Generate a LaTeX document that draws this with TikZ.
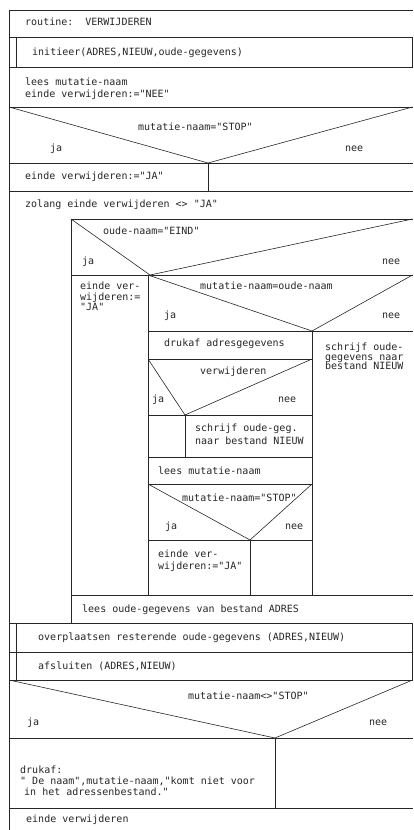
\documentclass[tikz,border=0pt]{standalone}
\usepackage{fontspec}
\newfontfamily\dm{DejaVu Sans Mono}
\frenchspacing
\begin{document}
\begin{tikzpicture}[x=1pt,y=-1pt,
  ln/.style={draw=black!85, line width=0.6pt},
  t/.style={anchor=west, inner sep=0pt, font=\dm\fontsize{10}{11}\selectfont, text=black!85, text height=7.5pt, text depth=2.5pt}]
\useasboundingbox (0,0) rectangle (413,830);
% outer frame
\draw[ln] (9,830) -- (9,10) -- (413,10);
\foreach \yy in {37,67,107,163,191,623,652,680,738,808}
  \draw[ln] (9,\yy) -- (413,\yy);
% subroutine double bars
\draw[ln] (16,37) -- (16,67);
\draw[ln] (412.4,37) -- (412.4,67);
\draw[ln] (16,623) -- (16,680);
\draw[ln] (412.4,623) -- (412.4,680);
% first decision
\draw[ln] (9,107) -- (208,163) -- (412.5,107);
\draw[ln] (208,163) -- (208,191);
% loop box
\draw[ln] (71,623) -- (71,219) -- (413,219);
\draw[ln] (71,219) -- (150,275) -- (412.5,219);
\draw[ln] (71,275) -- (413,275);
\draw[ln] (148,275) -- (148,595);
\draw[ln] (148,275) -- (312,331) -- (412.5,275);
\draw[ln] (148,331) -- (413,331);
\draw[ln] (312,331) -- (312,595);
\draw[ln] (148,359) -- (312,359);
\draw[ln] (148,359) -- (185,415) -- (312,359);
\draw[ln] (148,415) -- (312,415);
\draw[ln] (185,415) -- (185,457);
\draw[ln] (148,457) -- (312,457);
\draw[ln] (148,484) -- (312,484);
\draw[ln] (148,484) -- (250,540) -- (312,484);
\draw[ln] (148,540) -- (312,540);
\draw[ln] (250,540) -- (250,595);
\draw[ln] (71,595) -- (413,595);
% last decision
\draw[ln] (9,680) -- (275,738) -- (412.5,680);
\draw[ln] (275,738) -- (275,808);
% texts
\node[t] (r1) at (25,23) {routine:\ \ VERWIJDEREN};
\node[t] (r2) at (32,53) {initieer(ADRES,NIEUW,oude-gegevens)};
\node[t] (r3a) at (25,83) {lees mutatie-naam};
\node[t] (r3b) at (25,95) {einde verwijderen:="NEE"};
\node[t] (d1) at (138,128) {mutatie-naam="STOP"};
\node[t] (d1j) at (50,149) {ja};
\node[t] (d1n) at (345,149) {nee};
\node[t] (r4) at (25,177) {einde verwijderen:="JA"};
\node[t] (r5) at (25,205) {zolang einde verwijderen <> "JA"};
\node[t] (d2) at (103,232) {oude-naam="EIND"};
\node[t] (d2j) at (82,262) {ja};
\node[t] (d2n) at (382,262) {nee};
\node[t] (e1a) at (80,287) {einde ver-};
\node[t] (e1b) at (80,297.5) {wijderen:=};
\node[t] (e1c) at (80,307.5) {"JA"};
\node[t] (d3) at (200,287) {mutatie-naam=oude-naam};
\node[t] (d3j) at (164,316) {ja};
\node[t] (d3n) at (382,316) {nee};
\node[t] (r6) at (164,344) {drukaf adresgegevens};
\node[t] (s1a) at (325,348) {schrijf oude-};
\node[t] (s1b) at (325,357.5) {gegevens naar};
\node[t] (s1c) at (325,367) {bestand NIEUW};
\node[t] (d4) at (200,372) {verwijderen};
\node[t] (d4j) at (152,400) {ja};
\node[t] (d4n) at (278,400) {nee};
\node[t] (s2a) at (195,429) {schrijf oude-geg.};
\node[t] (s2b) at (195,442) {naar bestand NIEUW};
\node[t] (r7) at (158,472) {lees mutatie-naam};
\node[t] (d5) at (182,499) {mutatie-naam="STOP"};
\node[t] (d5j) at (165,527) {ja};
\node[t] (d5n) at (285,527) {nee};
\node[t] (e2a) at (158,555) {einde ver-};
\node[t] (e2b) at (158,567) {wijderen:="JA"};
\node[t] (r8) at (82,610) {lees oude-gegevens van bestand ADRES};
\node[t] (r9) at (38,638) {overplaatsen resterende oude-gegevens (ADRES,NIEUW)};
\node[t] (r10) at (38,667) {afsluiten (ADRES,NIEUW)};
\node[t] (d6) at (188,697) {mutatie-naam<>"STOP"};
\node[t] (d6j) at (27,723) {ja};
\node[t] (d6n) at (369,723) {nee};
\node[t] (p1) at (20,771) {drukaf:};
\node[t] (p2) at (20,782) {" De naam",mutatie-naam,"komt niet voor};
\node[t] (p3) at (24,792.5) {in het adressenbestand."};
\node[t] (r11) at (26,820) {einde verwijderen};
\end{tikzpicture}
\end{document}
